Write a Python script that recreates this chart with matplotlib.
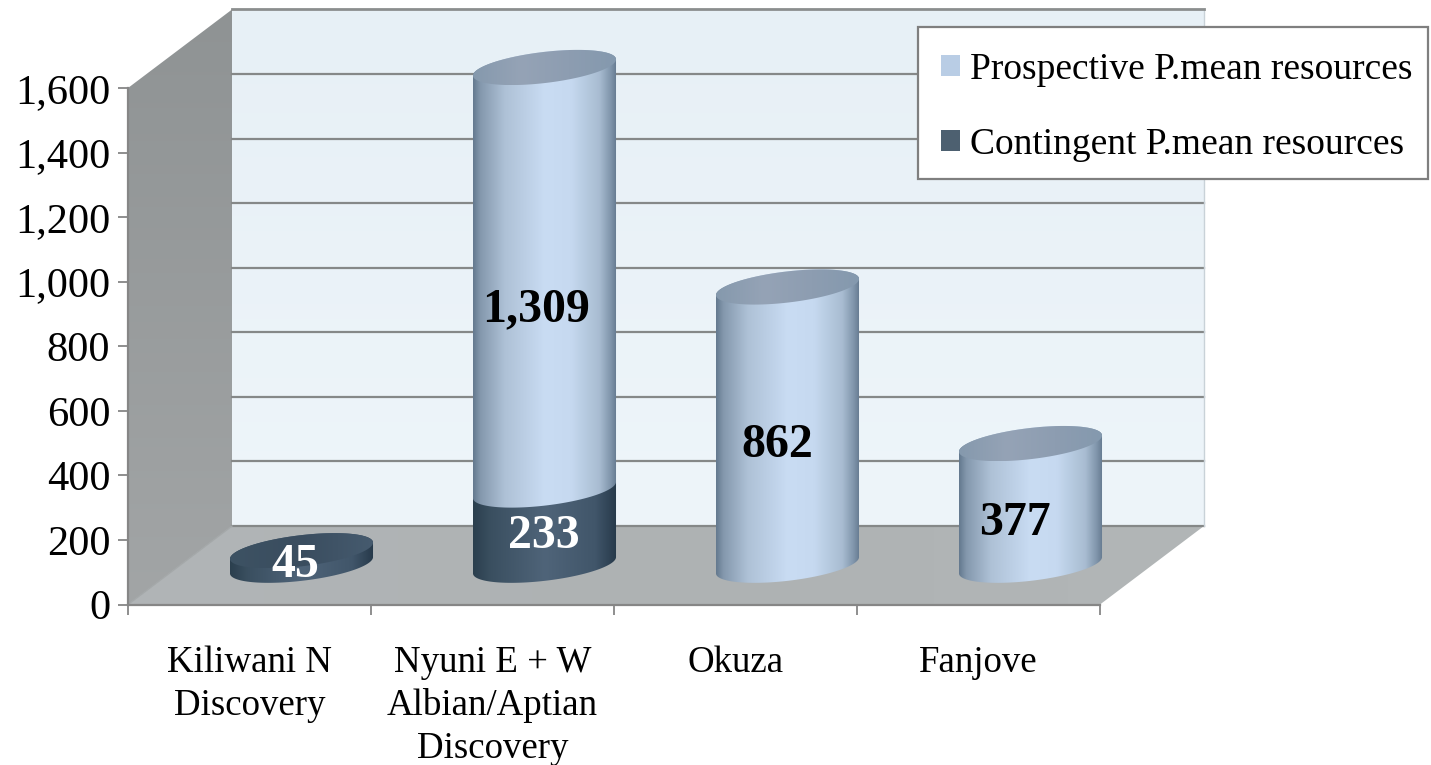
import numpy as np
import matplotlib
matplotlib.use('Agg')
import matplotlib.pyplot as plt
from matplotlib.colors import LinearSegmentedColormap
from matplotlib.patches import Patch, Polygon, Rectangle
from matplotlib.ticker import FuncFormatter

plt.rcParams['font.family'] = ['Liberation Serif', 'DejaVu Serif']

# data
categories = ['Kiliwani N\nDiscovery', 'Nyuni E + W\nAlbian/Aptian\nDiscovery', 'Okuza', 'Fanjove']
contingent = [45, 233, 0, 0]
prospective = [0, 1309, 862, 377]
y_ticks = [0, 200, 400, 600, 800, 1000, 1200, 1400, 1600]
legend_labels = ['Prospective P.mean resources', 'Contingent P.mean resources']

W, H = 1431, 765
X0, X1, Y0, Y1 = 128, 1100, 604.5, 88     # plot box in pixels

fig = plt.figure(figsize=(W / 100, H / 100), dpi=100, facecolor='white')
ax = fig.add_axes([X0 / W, 1 - Y0 / H, (X1 - X0) / W, (Y0 - Y1) / H])
ax.set_facecolor('none')
XLIM = (-0.5, 3.5)
YLIM = (0, 1600)

px_x = (X1 - X0) / (XLIM[1] - XLIM[0])
px_y = (Y0 - Y1) / (YLIM[1] - YLIM[0])
DX = 104 / px_x     # depth of the 3d box in data units
DY = 78.5 / px_y

LIGHT = LinearSegmentedColormap.from_list('light', [
    (0, '#64798f'), (0.05, '#8498ad'), (0.22, '#aec1d6'), (0.5, '#c9dcf3'),
    (0.68, '#c6d9f0'), (0.88, '#a8bcd1'), (0.96, '#7f94aa'), (1, '#64798f')])
DARK = LinearSegmentedColormap.from_list('dark', [
    (0, '#2b3f4e'), (0.12, '#3a4f60'), (0.5, '#4f6479'),
    (0.85, '#41566a'), (1, '#26394a')])
CAP = LinearSegmentedColormap.from_list('cap', ['#8599ad', '#95a3b6', '#8d9db1', '#8499ae'])
CAP_DARK = LinearSegmentedColormap.from_list('capd', ['#3d5263', '#3a4d5f', '#465b6f'])


def fill(pts, cmap, z, vertical=False):
    # gradient image cut to a polygon, allowed to leave the axes
    pts = np.asarray(pts)
    grad = np.linspace(0, 1, 256).reshape(-1, 1) if vertical else np.linspace(0, 1, 256).reshape(1, -1)
    ext = [pts[:, 0].min(), pts[:, 0].max(), pts[:, 1].min(), pts[:, 1].max()]
    im = ax.imshow(grad, cmap=cmap, extent=ext, aspect='auto', origin='upper', zorder=z, interpolation='bilinear')
    im.set_clip_box(fig.bbox)
    im.set_clip_path(Polygon(pts, closed=True, transform=ax.transData))


def ellipse(cx, cy):
    # tilted ellipse as seen in the 3d view, worked out in pixels
    t = np.linspace(0, 2 * np.pi, 181)[:-1]
    a = np.radians(6.8)
    rx, ry = 72, 15.5
    ex = rx * np.cos(t) * np.cos(a) - ry * np.sin(t) * np.sin(a)
    ey = rx * np.cos(t) * np.sin(a) + ry * np.sin(t) * np.cos(a)
    return cx + ex / px_x, cy + ey / px_y


def cylinder(x, v0, v1, body_cmap, cap_cmap, z, cap=True):
    cx = x + DX / 2
    x0, y0 = ellipse(cx, v0 + DY / 2)
    x1, y1 = ellipse(cx, v1 + DY / 2)
    il, ir = x0.argmin(), x0.argmax()
    # lower arc of the bottom ellipse, left to right
    order = np.roll(np.arange(len(x0)), -ir)
    k = int(np.where(order == il)[0][0])
    lower = order[k:]
    lower = np.append(lower, ir)
    upper = order[:k + 1]     # upper arc right to left
    pts = np.vstack([np.column_stack([x0[lower], y0[lower]]),
                     np.column_stack([x1[upper], y1[upper]])])
    fill(pts, body_cmap, z)
    if cap:
        fill(np.column_stack([x1, y1]), cap_cmap, z + 0.1)


# box of the chart
xa, xb = XLIM
bottom, top = YLIM
fill([(xa + DX, DY), (xb + DX, DY), (xb + DX, top + DY), (xa + DX, top + DY)],
     LinearSegmentedColormap.from_list('wall', ['#e7f0f6', '#eef5fa']), 0.5, vertical=True)
fill([(xa, 0), (xa + DX, DY), (xa + DX, top + DY), (xa, top)],
     LinearSegmentedColormap.from_list('side', ['#8f9394', '#a2a5a6']), 0.6, vertical=True)
fill([(xa, 0), (xb, 0), (xb + DX, DY), (xa + DX, DY)],
     LinearSegmentedColormap.from_list('floor', ['#b1b5b7', '#aeb2b3', '#b2b6b7']), 0.6)

for v in y_ticks[:-1]:
    ax.plot([xa + DX, xb + DX], [v + DY, v + DY], color='#858888', lw=1.6, zorder=0.8, clip_on=False)
ax.plot([xa, xa + DX], [0, DY], color='#a4a8a9', lw=1.0, zorder=0.8, clip_on=False)
ax.plot([xb + DX, xb + DX], [DY, top + DY], color='#c9d2d8', lw=1.0, zorder=0.8, clip_on=False)
ax.plot([xa + DX, xb + DX], [top + DY, top + DY], color='#8b8e8e', lw=2.0, zorder=0.9, clip_on=False)

# cylinders
pos = np.arange(len(categories))
for i in pos:
    c = contingent[i]
    p = prospective[i]
    if c > 0:
        cylinder(pos[i], 0, c, DARK, CAP_DARK, 1 + i, cap=(p == 0))
    if p > 0:
        cylinder(pos[i], c, c + p, LIGHT, CAP, 1.3 + i)

# value labels, hand placed in the original
label_x = [0.187, 0.179, 0.171, 0.150]
label_y_c = [123, 211]
label_y_p = [None, 916, 494, 252]
for i in pos:
    if contingent[i] > 0:
        off = 0.187 if i == 0 else 0.212
        ax.text(pos[i] + off, label_y_c[i], f'{contingent[i]:,}', color='white', fontsize=34.5,
                fontweight='bold', ha='center', va='center', zorder=10)
    if prospective[i] > 0:
        ax.text(pos[i] + label_x[i], label_y_p[i], f'{prospective[i]:,}', color='black', fontsize=34.5,
                fontweight='bold', ha='center', va='center', zorder=10)

# axes
ax.set_xlim(*XLIM)
ax.set_ylim(*YLIM)
for s in ['top', 'right']:
    ax.spines[s].set_visible(False)
for s in ['left', 'bottom']:
    ax.spines[s].set_color('#868686')
    ax.spines[s].set_linewidth(1.6)
    ax.spines[s].set_zorder(0.95)
ax.set_yticks(y_ticks)
ax.yaxis.set_major_formatter(FuncFormatter(lambda v, _: f'{int(v):,}'))
ax.tick_params(axis='y', length=7.2, width=1.3, color='#868686', labelsize=30.5, pad=5.5)
ax.set_xticks(np.arange(len(categories) + 1) - 0.5)
ax.set_xticklabels([])
ax.set_xticks(pos, minor=True)
ax.set_xticklabels(categories, minor=True, fontsize=26.6)
for t in ax.get_xticklabels(minor=True):
    t.set_linespacing(1.31)
ax.tick_params(axis='x', which='major', length=7.5, width=1.3, color='#868686')
ax.tick_params(axis='x', which='minor', length=0, pad=29.5)

# legend frame drawn by hand so it can have the original's uneven margins
ax.add_patch(Rectangle((918 / W, 1 - 179 / H), 510 / W, 152 / H, transform=fig.transFigure,
                       facecolor='white', edgecolor='#7f7f7f', lw=1.6, clip_on=False, zorder=19))
handles = [Patch(facecolor='#b9cde5', edgecolor='none'), Patch(facecolor='#4d6070', edgecolor='none')]
leg = ax.legend(handles, legend_labels, loc='upper left', bbox_to_anchor=(918 / W, 1 - 29 / H),
                bbox_transform=fig.transFigure, fontsize=27, frameon=False, borderaxespad=0, borderpad=0.62,
                handlelength=0.5, handleheight=0.5, handletextpad=0.27, labelspacing=1.08)
leg.set_zorder(20)

fig.savefig('out.png', dpi=100)
